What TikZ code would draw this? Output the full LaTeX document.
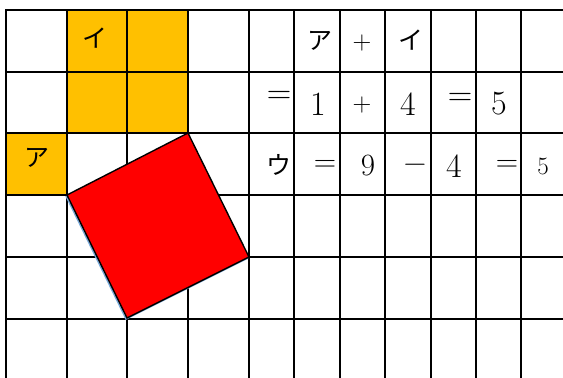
\documentclass[tikz,border=0pt]{standalone}
\usepackage{fontspec}
\usepackage{tikz}
\newfontfamily\jpfont{Noto Sans CJK JP}
\definecolor{goldcell}{RGB}{255,192,0}
\definecolor{redsquare}{RGB}{255,0,0}
\definecolor{shadowblue}{RGB}{120,170,220}

\begin{document}
\begin{tikzpicture}[x=1pt,y=-1pt]
		\tikzstyle{grid-line}=[black,line width=2.6pt,line cap=rect]
		\tikzstyle{gold}=[fill=goldcell]
		\tikzstyle{tilted}=[fill=redsquare,draw=black,line width=1.4pt,line join=miter]
		\tikzstyle{kana}=[inner sep=0pt,font=\jpfont\fontsize{25}{27}\selectfont]
		\tikzstyle{big}=[inner sep=0pt,font=\fontsize{34}{36}\selectfont]
		\tikzstyle{mid}=[inner sep=0pt,font=\fontsize{31}{33}\selectfont]
		\tikzstyle{small}=[inner sep=0pt,font=\fontsize{26}{28}\selectfont]
		\useasboundingbox (0,0) rectangle (563,378);
		\fill [white] (0,0) rectangle (563,378);
		% coloured cells
		\fill [gold] (67,10) rectangle (188,133);
		\fill [gold] (6,133) rectangle (67,195);
		% grid
		\foreach \x in {6,67,127,188,249,294,340,385,431,476,521}
			\draw [grid-line] (\x,10) -- (\x,390);
		\foreach \y in {10,72,133,195,257,319}
			\draw [grid-line] (6,\y) -- (575,\y);
		% tilted square
		\coordinate (sq-top) at (188,133);
		\coordinate (sq-left) at (67,195);
		\coordinate (sq-bottom) at (127,318);
		\coordinate (sq-right) at (249,257);
		\draw [shadowblue,line width=1.4pt] ([shift={(-1,1)}]sq-left) -- ([shift={(-1,1)}]sq-bottom) -- ([shift={(-1,1)}]sq-right);
		\draw [tilted] (sq-left) -- (sq-top) -- (sq-right) -- (sq-bottom) -- cycle;
		% labels of the cells
		\node [kana] at (95,38) (i-cell) {イ};
		\node [kana] at (37,158) (a-cell) {ア};
		% first line
		\node [kana] at (320,41) (a-sum) {ア};
		\node [small] at (362,43) (plus-a) {+};
		\node [kana] at (411,40) (i-sum) {イ};
		% second line
		\node [big] at (279,97) (eq-a) {=};
		\node [big] at (318,104) (one) {1};
		\node [small] at (362,105) (plus-b) {+};
		\node [big] at (408,104) (four-a) {4};
		\node [big] at (460,99) (eq-b) {=};
		\node [big] at (499,104) (five-a) {5};
		% third line
		\node [kana] at (279,165) (u-diff) {ウ};
		\node [mid] at (325,166) (eq-c) {=};
		\node [mid] at (368,165) (nine) {9};
		\node [mid] at (415,168) (minus) {−};
		\node [big] at (454,166) (four-b) {4};
		\node [mid] at (507,166) (eq-d) {=};
		\node [font=\fontsize{25}{27}\selectfont,inner sep=0pt] at (543,166) (five-b) {5};
	\end{tikzpicture}
\end{document}
